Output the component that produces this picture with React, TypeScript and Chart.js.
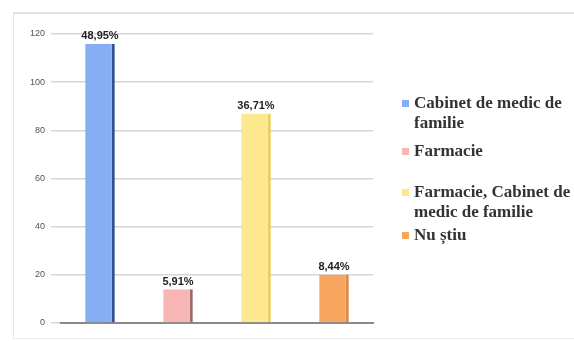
import React, { useEffect, useRef } from "react";
import { Chart, registerables } from "chart.js";

Chart.register(...registerables);

const categories = [
  "Cabinet de medic de familie",
  "Farmacie",
  "Farmacie, Cabinet de medic de familie",
  "Nu știu",
];
const values = [116, 14, 87, 20];
const percentLabels = ["48,95%", "5,91%", "36,71%", "8,44%"];
const yTicks = [0, 20, 40, 60, 80, 100, 120];
const barColors = ["#86aef4", "#f7b5b4", "#fde88f", "#f8a55f"];
const sideColors = ["#34528f", "#9c6a6a", "#e8cf62", "#d98a45"];
const legendLines = [
  ["Cabinet de medic de", "familie"],
  ["Farmacie"],
  ["Farmacie, Cabinet de", "medic de familie"],
  ["Nu știu"],
];
const legendTops = [93, 141, 182, 225];

const labelPlugin = {
  id: "barLabels",
  afterDatasetsDraw(chart: any) {
    const ctx = chart.ctx;
    const meta = chart.getDatasetMeta(0);
    ctx.save();
    ctx.font = "bold 11px Arial, 'Liberation Sans', sans-serif";
    ctx.fillStyle = "#222";
    ctx.textAlign = "center";
    ctx.textBaseline = "bottom";
    meta.data.forEach((bar: any, i: number) => {
      ctx.fillText(percentLabels[i], bar.x, bar.y - 2);
    });
    ctx.restore();
  },
};

export default function App() {
  const ref = useRef<HTMLCanvasElement>(null);
  useEffect(() => {
    if (!ref.current) return;
    const chart = new Chart(ref.current, {
      type: "bar",
      data: {
        labels: categories,
        datasets: [
          {
            data: values,
            backgroundColor: barColors,
            borderColor: sideColors,
            borderWidth: { top: 0, left: 0, bottom: 0, right: 3 } as any,
            barPercentage: 0.38,
            categoryPercentage: 1,
          },
        ],
      },
      options: {
        animation: false,
        responsive: false,
        maintainAspectRatio: false,
        layout: { padding: { top: 34, right: 201, bottom: 10, left: 0 } },
        plugins: { legend: { display: false }, tooltip: { enabled: false } },
        scales: {
          x: {
            ticks: { display: false },
            grid: { display: false },
            border: { display: true, color: "#8a8a8a", width: 2 },
          },
          y: {
            min: 0,
            max: 120,
            afterFit: (s: any) => {
              s.width = 61;
            },
            afterBuildTicks: (s: any) => {
              s.ticks = yTicks.map((v) => ({ value: v }));
            },
            ticks: {
              font: { size: 9, family: "Arial, 'Liberation Sans', sans-serif" },
              color: "#555",
              padding: 6,
            },
            grid: { color: "#d6d6d6", lineWidth: 1.5, tickLength: 10 },
            border: { display: false },
          },
        },
      },
      plugins: [labelPlugin],
    });
    return () => chart.destroy();
  }, []);

  return (
    <div style={{ position: "absolute", left: 0, top: 0, width: 574, height: 341, background: "#fff" }}>
      <div
        style={{
          position: "absolute",
          left: 13,
          top: 12,
          width: 561,
          height: 327,
          borderTop: "2px solid #e2e2e2",
          borderLeft: "1px solid #e6e6e6",
          borderBottom: "1px solid #eeeeee",
          boxSizing: "border-box",
        }}
      />
      <canvas ref={ref} width={574} height={341} style={{ position: "absolute", left: 0, top: 0 }} />
      {legendLines.map((lines, i) => (
        <div
          key={i}
          style={{
            position: "absolute",
            left: 402,
            top: legendTops[i],
            fontFamily: "'Liberation Serif', 'Times New Roman', serif",
            fontWeight: "bold",
            fontSize: 17,
            lineHeight: "20px",
            color: "#333",
            whiteSpace: "nowrap",
          }}
        >
          {lines.map((t, j) => (
            <div key={j} style={{ display: "flex", alignItems: "center" }}>
              {j === 0 ? (
                <span style={{ display: "inline-block", width: 7, height: 7, background: barColors[i], marginRight: 5 }} />
              ) : (
                <span style={{ display: "inline-block", width: 12 }} />
              )}
              <span>{t}</span>
            </div>
          ))}
        </div>
      ))}
    </div>
  );
}
